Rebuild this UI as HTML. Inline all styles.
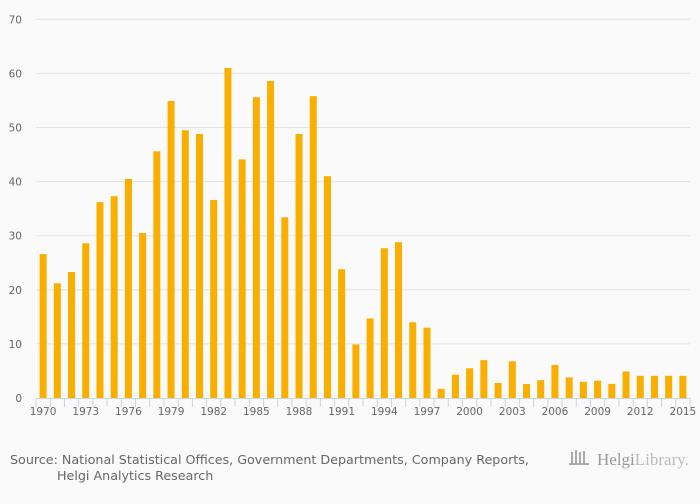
<!DOCTYPE html>
<html><head><meta charset="utf-8"><style>
body{margin:0;background:#fafafa;width:700px;height:500px;overflow:hidden;font-family:"DejaVu Sans","Liberation Sans",sans-serif}
</style></head><body>
<svg id="chart" width="700" height="500" xmlns="http://www.w3.org/2000/svg" font-family="DejaVu Sans, Liberation Sans, sans-serif">
<rect width="700" height="500" fill="#fafafa"/>
<g id="grid"></g><g id="bars"></g><g id="xaxis"></g>
<text x="10" y="464" font-size="12.7" fill="#666">Source: National Statistical Offices, Government Departments, Company Reports,</text>
<text x="57" y="480" font-size="12.7" fill="#666">Helgi Analytics Research</text>
<g>
<g fill="#aaa"><rect x="571" y="452" width="2" height="12"/><rect x="575" y="450" width="2" height="14"/><rect x="579" y="452" width="2" height="12"/><rect x="583" y="451" width="2" height="13"/><rect x="569" y="463" width="20" height="2"/></g>
<text x="597" y="465" font-size="17" fill="#999" font-family="Liberation Serif,serif">Helgi<tspan fill="#bbb">Library.</tspan></text>
</g>
</svg>
<script>
const years=[];for(let y=1970;y<=2015;y++)years.push(y);
const values=[26.6,21.2,23.3,28.6,36.2,37.3,40.5,30.5,45.6,54.9,49.5,48.8,36.6,61,44.1,55.6,58.6,33.4,48.8,55.8,41,23.8,9.9,14.7,27.7,28.8,14,13,1.7,4.3,5.5,7,2.8,6.8,2.6,3.3,6.1,3.8,3,3.2,2.6,4.9,4.1,4.1,4.1,4.1];
const yTicks=[0,10,20,30,40,50,60,70];
const NS="http://www.w3.org/2000/svg";
const x0=36,x1=690,yb=398,yt=19.3,ymax=70;
const step=(x1-x0)/years.length;
const yS=v=>yb-(v/ymax)*(yb-yt);
const xC=i=>x0+step*(i+0.5);
function mk(t,a,p){const e=document.createElementNS(NS,t);for(const k in a)e.setAttribute(k,a[k]);p.appendChild(e);return e;}
const grid=document.getElementById('grid'),bars=document.getElementById('bars'),xa=document.getElementById('xaxis');
yTicks.forEach(v=>{
 if(v>0){const l=mk('line',{x1:x0,x2:x1,y1:yS(v),y2:yS(v),stroke:'#e3e3e3','stroke-width':1},grid);
 
 }
 const t=mk('text',{x:22,y:yS(v)+4,'font-size':10.5,fill:'#666','text-anchor':'end'},grid);t.textContent=v;
 
 
});
values.forEach((v,i)=>{
 const r=mk('rect',{x:xC(i)-3.5,y:yS(v),width:7,height:yb-yS(v),fill:'#f9ae00'},bars);
 
 
});
const ax=mk('line',{x1:x0,x2:x1,y1:yb+0.5,y2:yb+0.5,stroke:'#c8d4e8','stroke-width':1},xa);


for(let i=0;i<=years.length;i++){
 const tk=mk('line',{x1:x0+step*i,x2:x0+step*i,y1:yb,y2:yb+9,stroke:'#c8d4e8','stroke-width':1},xa);
 
 
}
years.forEach((y,i)=>{if((y-1970)%3===0){
 const t=mk('text',{x:xC(i),y:yb+17,'font-size':10.5,fill:'#666','text-anchor':'middle'},xa);t.textContent=y;
 
 
}});
</script>
</body></html>
